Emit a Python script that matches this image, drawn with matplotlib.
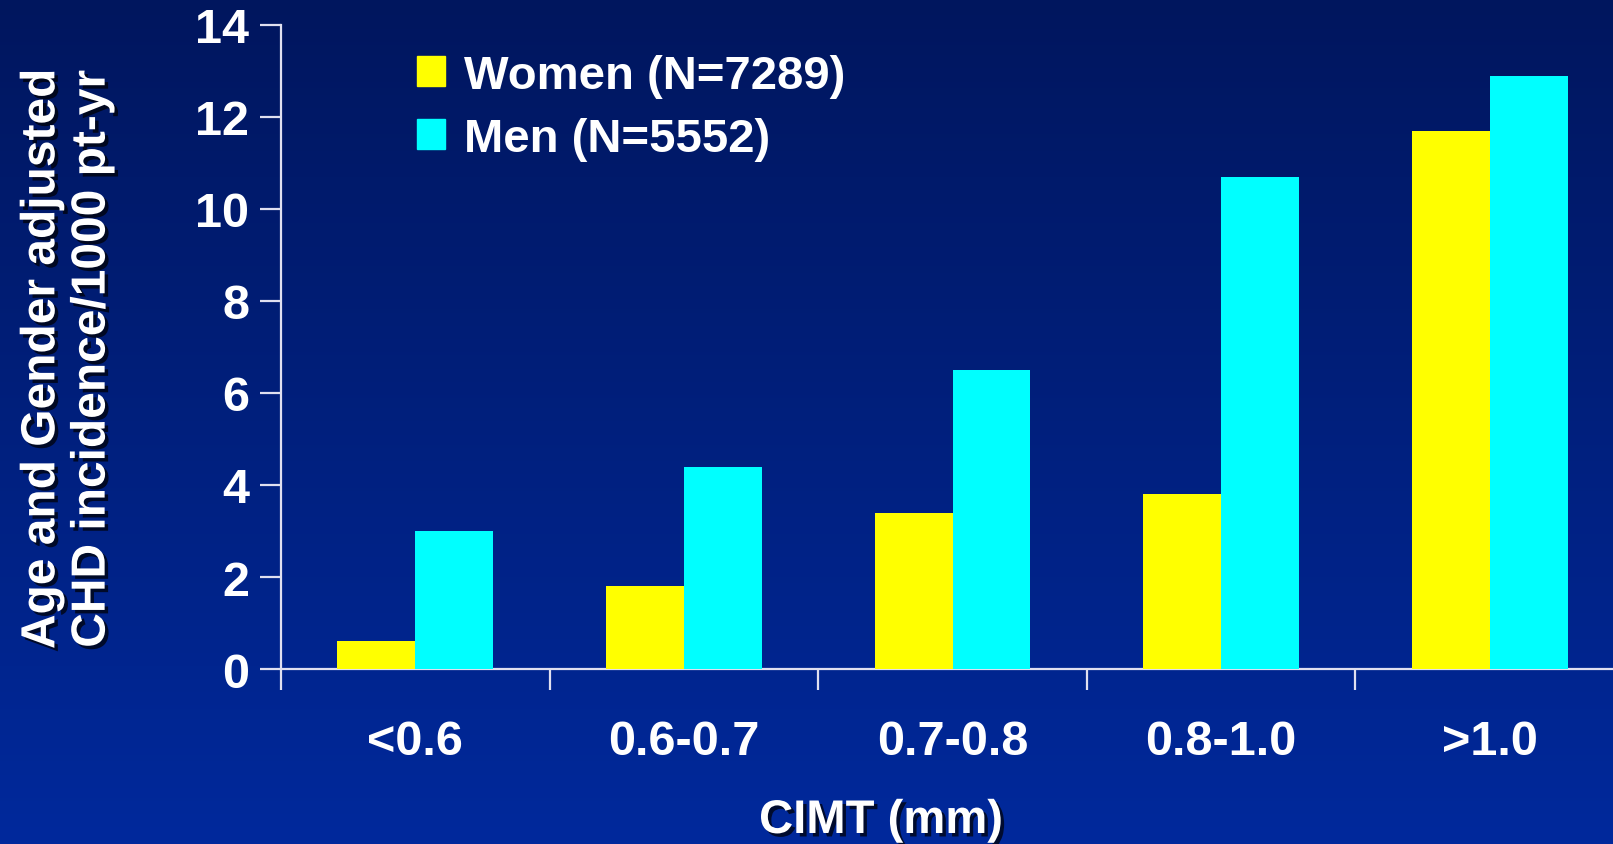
import numpy as np
import matplotlib.pyplot as plt
import matplotlib.patheffects as pe
from matplotlib.patches import Patch

categories = ['<0.6', '0.6-0.7', '0.7-0.8', '0.8-1.0', '>1.0']
women = [0.6, 1.8, 3.4, 3.8, 11.7]
men = [3.0, 4.4, 6.5, 10.7, 12.9]
series_labels = ['Women (N=7289)', 'Men (N=5552)']
yticks = [0, 2, 4, 6, 8, 10, 12, 14]

plt.rcParams['font.family'] = ['Liberation Sans', 'DejaVu Sans']
plt.rcParams['font.weight'] = 'bold'

W, H = 1613, 845
fig = plt.figure(figsize=(W / 100, H / 100), dpi=100)

# gradient background
bg = fig.add_axes([0, 0, 1, 1], zorder=-10)
top = np.array([0, 22, 94]) / 255
bot = np.array([0, 41, 156]) / 255
t = np.linspace(0, 1, 256)[:, None]
grad = top[None, None, :] * (1 - t[..., None]) + bot[None, None, :] * t[..., None]
grad = np.repeat(grad, 2, axis=1)
bg.imshow(grad, aspect='auto', extent=[0, 1, 0, 1])
bg.axis('off')

# axes: left 281px, bottom 670px, top 26px, right beyond figure edge
x0, x1 = 281, 1624
y0, y1 = 670, 26
ax = fig.add_axes([x0 / W, 1 - y0 / H, (x1 - x0) / W, (y0 - y1) / H])
ax.patch.set_alpha(0)

x = np.arange(len(categories))
bw = 0.29
ax.bar(x - bw / 2, women, bw, color='#ffff00', label=series_labels[0], zorder=3)
ax.bar(x + bw / 2, men, bw, color='#00ffff', label=series_labels[1], zorder=3)

ax.set_xlim(-0.5, len(categories) - 0.5)
ax.set_ylim(0, 14)
ax.set_yticks(yticks)
ax.set_xticks(np.arange(len(categories) + 1) - 0.5)
ax.set_xticklabels([])
ax.set_xticks(x, minor=True)
ax.set_xticklabels(categories, minor=True)

for s in ['top', 'right']:
    ax.spines[s].set_visible(False)
for s in ['left', 'bottom']:
    ax.spines[s].set_color('#e0e0f0')
    ax.spines[s].set_linewidth(1.6)

ax.tick_params(axis='y', colors='#e0e0f0', length=15, width=1.6,
               labelcolor='white', labelsize=35, pad=8)
ax.tick_params(axis='x', which='major', colors='#e0e0f0', length=15, width=1.6)
ax.tick_params(axis='x', which='minor', length=0, labelcolor='white',
               labelsize=35, pad=36)

shadow = [pe.withSimplePatchShadow(offset=(2.5, -2.5), shadow_rgbFace='black', alpha=0.7)]

fig.text(67 / W, 1 - 360 / H, 'Age and Gender adjusted\nCHD incidence/1000 pt-yr',
         rotation=90, ha='center', va='center', color='white', fontsize=34.5,
         fontweight='bold', linespacing=1.15, path_effects=shadow)
fig.text(881 / W, 1 - 822 / H, 'CIMT (mm)', ha='center', va='center',
         color='white', fontsize=34, fontweight='bold', path_effects=shadow)

handles = [Patch(color='#ffff00'), Patch(color='#00ffff')]
leg = ax.legend(handles, series_labels, loc='upper left',
                bbox_to_anchor=(398 / W, 1 - 36 / H), bbox_transform=fig.transFigure,
                frameon=False, fontsize=34, handlelength=0.6, handleheight=0.6,
                handletextpad=0.4, labelspacing=0.4, borderaxespad=0)
for txt in leg.get_texts():
    txt.set_color('white')

fig.savefig('out.png', dpi=100)
